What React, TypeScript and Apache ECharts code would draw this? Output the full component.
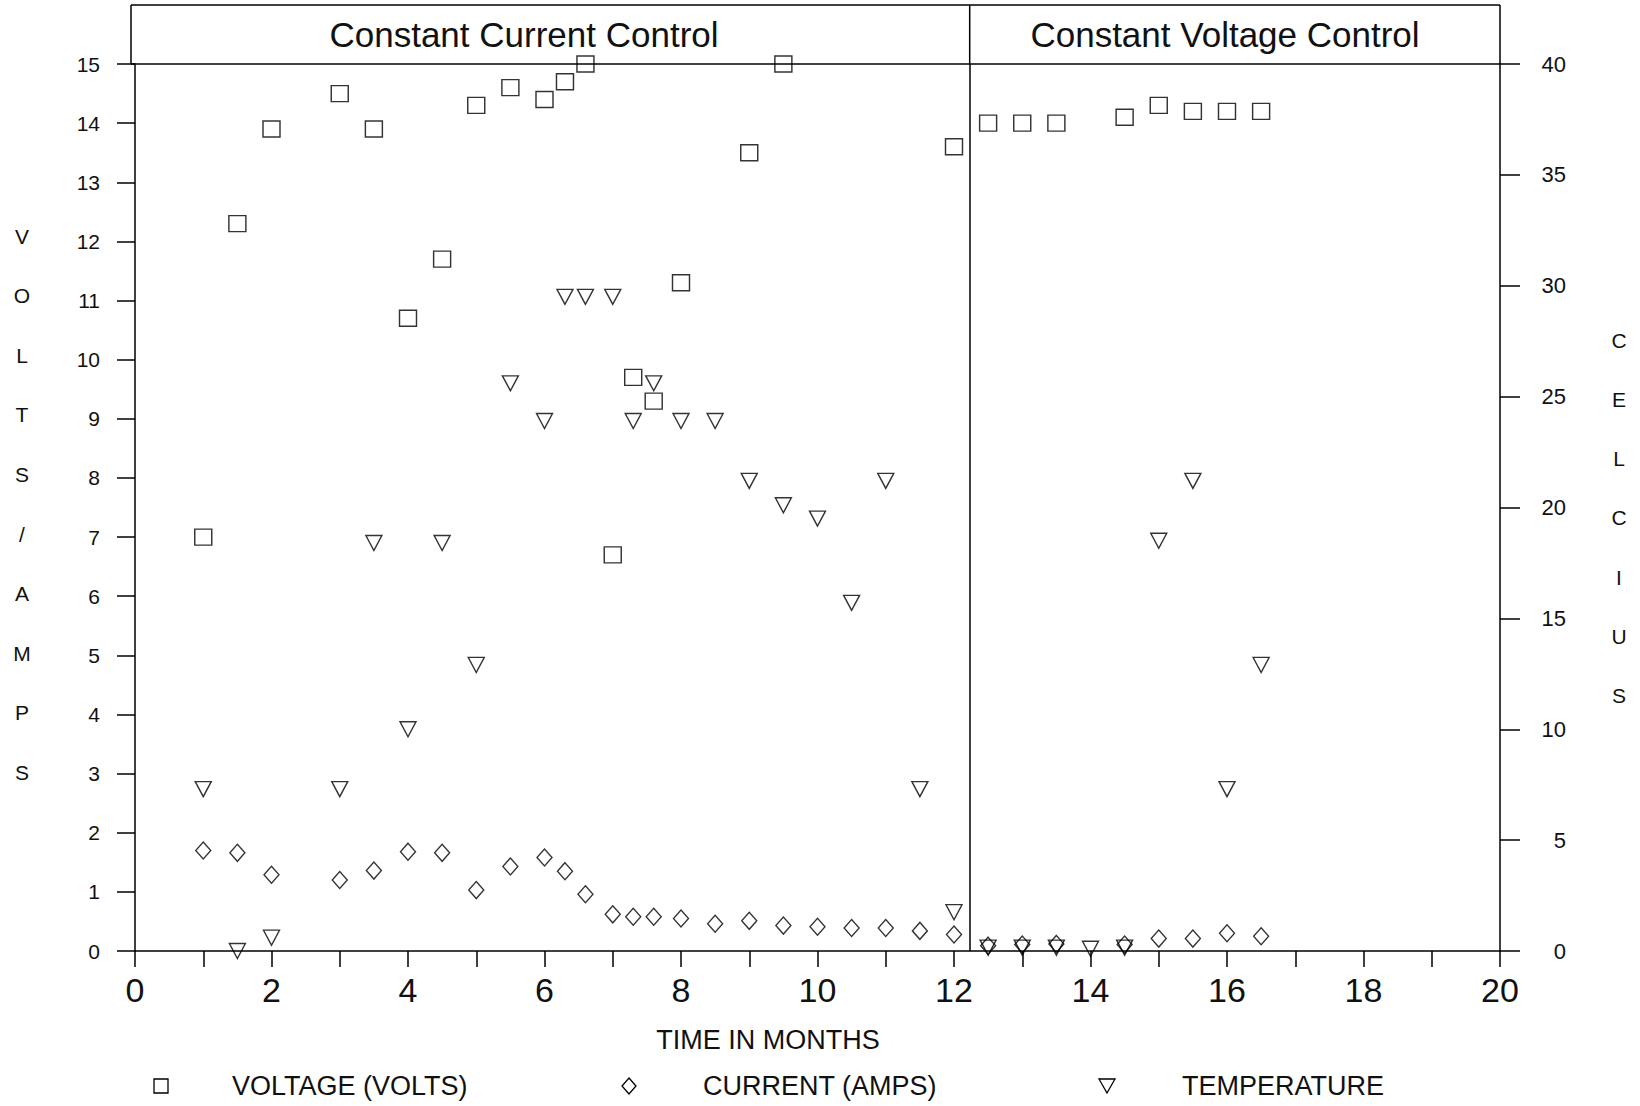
import React, { useEffect, useRef } from 'react';
import * as echarts from 'echarts';

const FONT = '"Liberation Sans", Arial, Helvetica, sans-serif';

// ---- data (time in months) ----
const voltageMonths = [1, 1.5, 2, 3, 3.5, 4, 4.5, 5, 5.5, 6, 6.3, 6.6, 7, 7.3, 7.6, 8, 9, 9.5, 12, 12.5, 13, 13.5, 14.5, 15, 15.5, 16, 16.5];
const voltageValues = [7.0, 12.3, 13.9, 14.5, 13.9, 10.7, 11.7, 14.3, 14.6, 14.4, 14.7, 15.0, 6.7, 9.7, 9.3, 11.3, 13.5, 15.0, 13.6, 14.0, 14.0, 14.0, 14.1, 14.3, 14.2, 14.2, 14.2];

const currentMonths = [1, 1.5, 2, 3, 3.5, 4, 4.5, 5, 5.5, 6, 6.3, 6.6, 7, 7.3, 7.6, 8, 8.5, 9, 9.5, 10, 10.5, 11, 11.5, 12, 12.5, 13, 13.5, 14.5, 15, 15.5, 16, 16.5];
const currentValues = [1.70, 1.66, 1.29, 1.20, 1.36, 1.68, 1.66, 1.03, 1.43, 1.58, 1.35, 0.96, 0.62, 0.58, 0.58, 0.55, 0.46, 0.51, 0.43, 0.41, 0.39, 0.39, 0.34, 0.28, 0.09, 0.11, 0.12, 0.11, 0.21, 0.21, 0.30, 0.25];

const tempMonths = [1, 1.5, 2, 3, 3.5, 4, 4.5, 5, 5.5, 6, 6.3, 6.6, 7, 7.3, 7.6, 8, 8.5, 9, 9.5, 10, 10.5, 11, 11.5, 12, 12.5, 13, 13.5, 14, 14.5, 15, 15.5, 16, 16.5];
const tempValues = [7.3, 0.0, 0.6, 7.3, 18.4, 10.0, 18.4, 12.9, 25.6, 23.9, 29.5, 29.5, 29.5, 23.9, 25.6, 23.9, 23.9, 21.2, 20.1, 19.5, 15.7, 21.2, 7.3, 1.75, 0.15, 0.15, 0.15, 0.1, 0.15, 18.5, 21.2, 7.3, 12.9];

const DIVIDER_MONTH = 12.23;
const sectionTitles = ['Constant Current Control', 'Constant Voltage Control'];
const legendNames = ['VOLTAGE (VOLTS)', 'CURRENT (AMPS)', 'TEMPERATURE'];
const leftAxisLetters = ['V', 'O', 'L', 'T', 'S', '/', 'A', 'M', 'P', 'S'];
const rightAxisLetters = ['C', 'E', 'L', 'C', 'I', 'U', 'S'];
const xTitle = 'TIME IN MONTHS';

const zip = (xs: number[], ys: number[]) => xs.map((x, i) => [x, ys[i]]);

const INK = '#111';
const markerStyle = { color: 'rgba(0,0,0,0)', borderColor: '#000', borderWidth: 1.4 };

export default function App() {
  const ref = useRef<HTMLDivElement>(null);

  useEffect(() => {
    if (!ref.current) return;
    const chart = echarts.init(ref.current, null, { renderer: 'svg' });

    const axisLineStyle = { color: '#000', width: 1.5 };

    chart.setOption({
      animation: false,
      backgroundColor: '#fff',
      grid: { left: 135, right: 140, top: 64, bottom: 155, containLabel: false },
      xAxis: {
        type: 'value',
        min: 0,
        max: 20,
        interval: 1,
        axisLine: { show: true, onZero: false, lineStyle: axisLineStyle },
        axisTick: { show: true, inside: false, length: 16, lineStyle: axisLineStyle },
        axisLabel: {
          show: true,
          fontSize: 34,
          color: INK,
          fontFamily: FONT,
          margin: 22,
          showMinLabel: true,
          showMaxLabel: true,
          formatter: (v: number) => (v % 2 === 0 ? String(v) : ''),
        },
        splitLine: { show: false },
      },
      yAxis: [
        {
          type: 'value',
          min: 0,
          max: 15,
          interval: 1,
          position: 'left',
          axisLine: { show: true, onZero: false, lineStyle: axisLineStyle },
          axisTick: { show: true, inside: false, length: 18, lineStyle: axisLineStyle },
          axisLabel: { fontSize: 21, color: INK, fontFamily: FONT, margin: 35, showMinLabel: true, showMaxLabel: true },
          splitLine: { show: false },
        },
        {
          type: 'value',
          min: 0,
          max: 40,
          interval: 5,
          position: 'right',
          axisLine: { show: true, onZero: false, lineStyle: axisLineStyle },
          axisTick: { show: true, inside: false, length: 20, lineStyle: axisLineStyle },
          axisLabel: { fontSize: 22, color: INK, fontFamily: FONT, margin: 66, align: 'right', showMinLabel: true, showMaxLabel: true },
          splitLine: { show: false },
        },
      ],
      series: [
        {
          name: legendNames[0],
          type: 'scatter',
          yAxisIndex: 0,
          data: zip(voltageMonths, voltageValues),
          symbol: 'rect',
          symbolSize: [17, 16],
          itemStyle: markerStyle,
          markLine: {
            silent: true,
            symbol: ['none', 'none'],
            label: { show: false },
            lineStyle: { color: '#000', type: 'solid', width: 1.5 },
            data: [{ xAxis: DIVIDER_MONTH }],
          },
        },
        {
          name: legendNames[1],
          type: 'scatter',
          yAxisIndex: 0,
          data: zip(currentMonths, currentValues),
          symbol: 'diamond',
          symbolSize: [15, 17],
          itemStyle: markerStyle,
        },
        {
          name: legendNames[2],
          type: 'scatter',
          yAxisIndex: 1,
          data: zip(tempMonths, tempValues),
          symbol: 'triangle',
          symbolRotate: 180,
          symbolSize: [16, 15],
          itemStyle: markerStyle,
        },
      ],
    });

    const divX = chart.convertToPixel({ xAxisIndex: 0 }, DIVIDER_MONTH) as number;
    const frameLeft = 131;
    const frameRight = 1500;
    const frameTop = 5;
    const headerBottom = 64;

    const lineStyle = { stroke: '#000', lineWidth: 1.5 };
    const textBase = { fill: INK, fontFamily: FONT };

    const legendY = 1086;

    chart.setOption({
      graphic: [
        // header frame
        { type: 'line', shape: { x1: frameLeft, y1: frameTop, x2: frameRight, y2: frameTop }, style: lineStyle, silent: true },
        { type: 'line', shape: { x1: frameLeft, y1: frameTop, x2: frameLeft, y2: headerBottom }, style: lineStyle, silent: true },
        { type: 'line', shape: { x1: frameRight, y1: frameTop, x2: frameRight, y2: headerBottom }, style: lineStyle, silent: true },
        { type: 'line', shape: { x1: frameLeft, y1: headerBottom, x2: frameRight, y2: headerBottom }, style: lineStyle, silent: true },
        { type: 'line', shape: { x1: divX, y1: frameTop, x2: divX, y2: headerBottom }, style: lineStyle, silent: true },
        // section titles
        { type: 'text', x: 524, y: 34, style: { ...textBase, text: sectionTitles[0], fontSize: 35, align: 'center', verticalAlign: 'middle' } },
        { type: 'text', x: 1225, y: 34, style: { ...textBase, text: sectionTitles[1], fontSize: 35, align: 'center', verticalAlign: 'middle' } },
        // vertical axis titles
        ...leftAxisLetters.map((ch, i) => ({
          type: 'text', x: 22, y: 236 + i * 59.6,
          style: { ...textBase, text: ch, fontSize: 21, align: 'center', verticalAlign: 'middle' },
        })),
        ...rightAxisLetters.map((ch, i) => ({
          type: 'text', x: 1619, y: 340 + i * 59.3,
          style: { ...textBase, text: ch, fontSize: 21, align: 'center', verticalAlign: 'middle' },
        })),
        // x axis title
        { type: 'text', x: 768, y: 1040, style: { ...textBase, text: xTitle, fontSize: 27, align: 'center', verticalAlign: 'middle' } },
        // legend
        { type: 'rect', shape: { x: 154, y: legendY - 7, width: 14, height: 14 }, style: { fill: 'none', stroke: '#000', lineWidth: 1.3 } },
        { type: 'text', x: 232, y: legendY, style: { ...textBase, text: legendNames[0], fontSize: 27, align: 'left', verticalAlign: 'middle' } },
        { type: 'polygon', shape: { points: [[629, legendY - 8], [636, legendY], [629, legendY + 8], [622, legendY]] }, style: { fill: 'none', stroke: '#000', lineWidth: 1.3 } },
        { type: 'text', x: 703, y: legendY, style: { ...textBase, text: legendNames[1], fontSize: 27, align: 'left', verticalAlign: 'middle' } },
        { type: 'polygon', shape: { points: [[1099, legendY - 7], [1115, legendY - 7], [1107, legendY + 7]] }, style: { fill: 'none', stroke: '#000', lineWidth: 1.3 } },
        { type: 'text', x: 1182, y: legendY, style: { ...textBase, text: legendNames[2], fontSize: 27, align: 'left', verticalAlign: 'middle' } },
      ],
    });

    return () => {
      chart.dispose();
    };
  }, []);

  return (
    <div
      ref={ref}
      style={{ position: 'absolute', left: 0, top: 0, width: 1640, height: 1106, background: '#fff' }}
    />
  );
}
